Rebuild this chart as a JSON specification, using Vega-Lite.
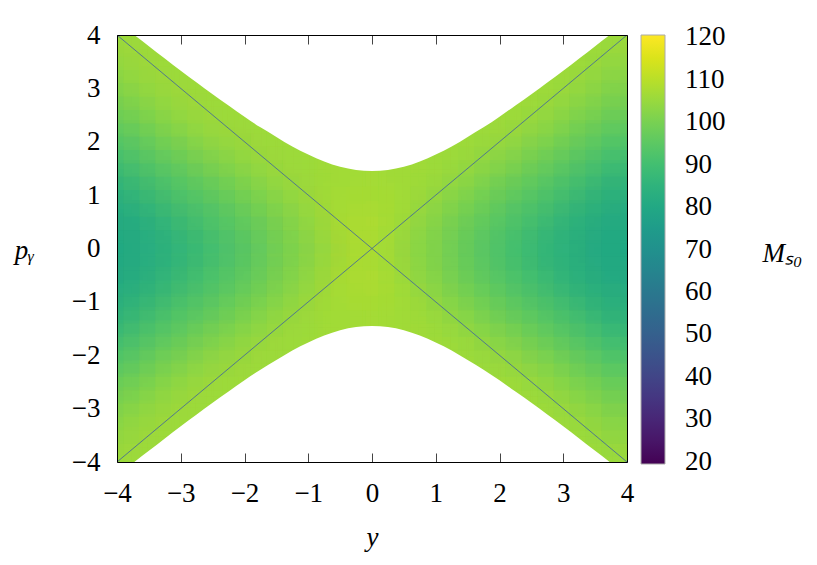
{
"$schema": "https://vega.github.io/schema/vega-lite/v6.json",
"width": 510, "height": 427,
"autosize": {"type": "none"},
"padding": {"left": 117, "top": 35, "right": 190, "bottom": 103},
"background": "white",
"config": {"view": {"stroke": null}, "font": "Liberation Serif"},
"datasets": {
"cells": [
{"y":-4,"p":-4,"m":106},{"y":-4,"p":-3.75,"m":105},{"y":-4,"p":-3.5,"m":104},{"y":-4,"p":-3.25,"m":102},{"y":-4,"p":-3,"m":101},{"y":-4,"p":-2.75,"m":99},{"y":-4,"p":-2.5,"m":97},{"y":-4,"p":-2.25,"m":95},{"y":-4,"p":-2,"m":92},{"y":-4,"p":-1.75,"m":90},{"y":-4,"p":-1.5,"m":87},{"y":-4,"p":-1.25,"m":85},{"y":-4,"p":-1,"m":83},{"y":-4,"p":-0.75,"m":82},{"y":-4,"p":-0.5,"m":81},{"y":-4,"p":-0.25,"m":80},{"y":-4,"p":0,"m":80},{"y":-4,"p":0.25,"m":80},{"y":-4,"p":0.5,"m":81},{"y":-4,"p":0.75,"m":82},{"y":-4,"p":1,"m":83},{"y":-4,"p":1.25,"m":85},{"y":-4,"p":1.5,"m":87},{"y":-4,"p":1.75,"m":90},{"y":-4,"p":2,"m":92},{"y":-4,"p":2.25,"m":95},{"y":-4,"p":2.5,"m":97},{"y":-4,"p":2.75,"m":99},{"y":-4,"p":3,"m":101},{"y":-4,"p":3.25,"m":102},{"y":-4,"p":3.5,"m":104},{"y":-4,"p":3.75,"m":105},{"y":-4,"p":4,"m":106},
{"y":-3.75,"p":-4,"m":106},{"y":-3.75,"p":-3.75,"m":106},{"y":-3.75,"p":-3.5,"m":105},{"y":-3.75,"p":-3.25,"m":104},{"y":-3.75,"p":-3,"m":102},{"y":-3.75,"p":-2.75,"m":101},{"y":-3.75,"p":-2.5,"m":99},{"y":-3.75,"p":-2.25,"m":97},{"y":-3.75,"p":-2,"m":94},{"y":-3.75,"p":-1.75,"m":92},{"y":-3.75,"p":-1.5,"m":89},{"y":-3.75,"p":-1.25,"m":87},{"y":-3.75,"p":-1,"m":85},{"y":-3.75,"p":-0.75,"m":83},{"y":-3.75,"p":-0.5,"m":82},{"y":-3.75,"p":-0.25,"m":81},{"y":-3.75,"p":0,"m":81},{"y":-3.75,"p":0.25,"m":81},{"y":-3.75,"p":0.5,"m":82},{"y":-3.75,"p":0.75,"m":83},{"y":-3.75,"p":1,"m":85},{"y":-3.75,"p":1.25,"m":87},{"y":-3.75,"p":1.5,"m":89},{"y":-3.75,"p":1.75,"m":92},{"y":-3.75,"p":2,"m":94},{"y":-3.75,"p":2.25,"m":97},{"y":-3.75,"p":2.5,"m":99},{"y":-3.75,"p":2.75,"m":101},{"y":-3.75,"p":3,"m":102},{"y":-3.75,"p":3.25,"m":104},{"y":-3.75,"p":3.5,"m":105},{"y":-3.75,"p":3.75,"m":106},{"y":-3.75,"p":4,"m":106},
{"y":-3.5,"p":-4,"m":106},{"y":-3.5,"p":-3.75,"m":106},{"y":-3.5,"p":-3.5,"m":106},{"y":-3.5,"p":-3.25,"m":105},{"y":-3.5,"p":-3,"m":104},{"y":-3.5,"p":-2.75,"m":102},{"y":-3.5,"p":-2.5,"m":100},{"y":-3.5,"p":-2.25,"m":98},{"y":-3.5,"p":-2,"m":96},{"y":-3.5,"p":-1.75,"m":94},{"y":-3.5,"p":-1.5,"m":91},{"y":-3.5,"p":-1.25,"m":89},{"y":-3.5,"p":-1,"m":87},{"y":-3.5,"p":-0.75,"m":85},{"y":-3.5,"p":-0.5,"m":83},{"y":-3.5,"p":-0.25,"m":83},{"y":-3.5,"p":0,"m":82},{"y":-3.5,"p":0.25,"m":83},{"y":-3.5,"p":0.5,"m":83},{"y":-3.5,"p":0.75,"m":85},{"y":-3.5,"p":1,"m":87},{"y":-3.5,"p":1.25,"m":89},{"y":-3.5,"p":1.5,"m":91},{"y":-3.5,"p":1.75,"m":94},{"y":-3.5,"p":2,"m":96},{"y":-3.5,"p":2.25,"m":98},{"y":-3.5,"p":2.5,"m":100},{"y":-3.5,"p":2.75,"m":102},{"y":-3.5,"p":3,"m":104},{"y":-3.5,"p":3.25,"m":105},{"y":-3.5,"p":3.5,"m":106},{"y":-3.5,"p":3.75,"m":106},{"y":-3.5,"p":4,"m":106},
{"y":-3.25,"p":-3.75,"m":106},{"y":-3.25,"p":-3.5,"m":106},{"y":-3.25,"p":-3.25,"m":106},{"y":-3.25,"p":-3,"m":105},{"y":-3.25,"p":-2.75,"m":104},{"y":-3.25,"p":-2.5,"m":102},{"y":-3.25,"p":-2.25,"m":100},{"y":-3.25,"p":-2,"m":98},{"y":-3.25,"p":-1.75,"m":96},{"y":-3.25,"p":-1.5,"m":93},{"y":-3.25,"p":-1.25,"m":91},{"y":-3.25,"p":-1,"m":89},{"y":-3.25,"p":-0.75,"m":87},{"y":-3.25,"p":-0.5,"m":85},{"y":-3.25,"p":-0.25,"m":84},{"y":-3.25,"p":0,"m":84},{"y":-3.25,"p":0.25,"m":84},{"y":-3.25,"p":0.5,"m":85},{"y":-3.25,"p":0.75,"m":87},{"y":-3.25,"p":1,"m":89},{"y":-3.25,"p":1.25,"m":91},{"y":-3.25,"p":1.5,"m":93},{"y":-3.25,"p":1.75,"m":96},{"y":-3.25,"p":2,"m":98},{"y":-3.25,"p":2.25,"m":100},{"y":-3.25,"p":2.5,"m":102},{"y":-3.25,"p":2.75,"m":104},{"y":-3.25,"p":3,"m":105},{"y":-3.25,"p":3.25,"m":106},{"y":-3.25,"p":3.5,"m":106},{"y":-3.25,"p":3.75,"m":106},
{"y":-3,"p":-3.5,"m":106},{"y":-3,"p":-3.25,"m":106},{"y":-3,"p":-3,"m":106},{"y":-3,"p":-2.75,"m":105},{"y":-3,"p":-2.5,"m":104},{"y":-3,"p":-2.25,"m":102},{"y":-3,"p":-2,"m":100},{"y":-3,"p":-1.75,"m":98},{"y":-3,"p":-1.5,"m":95},{"y":-3,"p":-1.25,"m":93},{"y":-3,"p":-1,"m":91},{"y":-3,"p":-0.75,"m":89},{"y":-3,"p":-0.5,"m":87},{"y":-3,"p":-0.25,"m":86},{"y":-3,"p":0,"m":85},{"y":-3,"p":0.25,"m":86},{"y":-3,"p":0.5,"m":87},{"y":-3,"p":0.75,"m":89},{"y":-3,"p":1,"m":91},{"y":-3,"p":1.25,"m":93},{"y":-3,"p":1.5,"m":95},{"y":-3,"p":1.75,"m":98},{"y":-3,"p":2,"m":100},{"y":-3,"p":2.25,"m":102},{"y":-3,"p":2.5,"m":104},{"y":-3,"p":2.75,"m":105},{"y":-3,"p":3,"m":106},{"y":-3,"p":3.25,"m":106},{"y":-3,"p":3.5,"m":106},
{"y":-2.75,"p":-3.25,"m":106},{"y":-2.75,"p":-3,"m":106},{"y":-2.75,"p":-2.75,"m":106},{"y":-2.75,"p":-2.5,"m":105},{"y":-2.75,"p":-2.25,"m":103},{"y":-2.75,"p":-2,"m":101},{"y":-2.75,"p":-1.75,"m":99},{"y":-2.75,"p":-1.5,"m":97},{"y":-2.75,"p":-1.25,"m":95},{"y":-2.75,"p":-1,"m":93},{"y":-2.75,"p":-0.75,"m":91},{"y":-2.75,"p":-0.5,"m":89},{"y":-2.75,"p":-0.25,"m":88},{"y":-2.75,"p":0,"m":87},{"y":-2.75,"p":0.25,"m":88},{"y":-2.75,"p":0.5,"m":89},{"y":-2.75,"p":0.75,"m":91},{"y":-2.75,"p":1,"m":93},{"y":-2.75,"p":1.25,"m":95},{"y":-2.75,"p":1.5,"m":97},{"y":-2.75,"p":1.75,"m":99},{"y":-2.75,"p":2,"m":101},{"y":-2.75,"p":2.25,"m":103},{"y":-2.75,"p":2.5,"m":105},{"y":-2.75,"p":2.75,"m":106},{"y":-2.75,"p":3,"m":106},{"y":-2.75,"p":3.25,"m":106},
{"y":-2.5,"p":-3,"m":106},{"y":-2.5,"p":-2.75,"m":106},{"y":-2.5,"p":-2.5,"m":106},{"y":-2.5,"p":-2.25,"m":105},{"y":-2.5,"p":-2,"m":103},{"y":-2.5,"p":-1.75,"m":101},{"y":-2.5,"p":-1.5,"m":99},{"y":-2.5,"p":-1.25,"m":97},{"y":-2.5,"p":-1,"m":94},{"y":-2.5,"p":-0.75,"m":93},{"y":-2.5,"p":-0.5,"m":91},{"y":-2.5,"p":-0.25,"m":90},{"y":-2.5,"p":0,"m":89},{"y":-2.5,"p":0.25,"m":90},{"y":-2.5,"p":0.5,"m":91},{"y":-2.5,"p":0.75,"m":93},{"y":-2.5,"p":1,"m":94},{"y":-2.5,"p":1.25,"m":97},{"y":-2.5,"p":1.5,"m":99},{"y":-2.5,"p":1.75,"m":101},{"y":-2.5,"p":2,"m":103},{"y":-2.5,"p":2.25,"m":105},{"y":-2.5,"p":2.5,"m":106},{"y":-2.5,"p":2.75,"m":106},{"y":-2.5,"p":3,"m":106},
{"y":-2.25,"p":-2.75,"m":106},{"y":-2.25,"p":-2.5,"m":106},{"y":-2.25,"p":-2.25,"m":106},{"y":-2.25,"p":-2,"m":104},{"y":-2.25,"p":-1.75,"m":103},{"y":-2.25,"p":-1.5,"m":100},{"y":-2.25,"p":-1.25,"m":99},{"y":-2.25,"p":-1,"m":96},{"y":-2.25,"p":-0.75,"m":95},{"y":-2.25,"p":-0.5,"m":93},{"y":-2.25,"p":-0.25,"m":92},{"y":-2.25,"p":0,"m":91},{"y":-2.25,"p":0.25,"m":92},{"y":-2.25,"p":0.5,"m":93},{"y":-2.25,"p":0.75,"m":95},{"y":-2.25,"p":1,"m":96},{"y":-2.25,"p":1.25,"m":99},{"y":-2.25,"p":1.5,"m":100},{"y":-2.25,"p":1.75,"m":103},{"y":-2.25,"p":2,"m":104},{"y":-2.25,"p":2.25,"m":106},{"y":-2.25,"p":2.5,"m":106},{"y":-2.25,"p":2.75,"m":106},
{"y":-2,"p":-2.5,"m":106},{"y":-2,"p":-2.25,"m":106},{"y":-2,"p":-2,"m":105},{"y":-2,"p":-1.75,"m":104},{"y":-2,"p":-1.5,"m":102},{"y":-2,"p":-1.25,"m":100},{"y":-2,"p":-1,"m":98},{"y":-2,"p":-0.75,"m":97},{"y":-2,"p":-0.5,"m":95},{"y":-2,"p":-0.25,"m":94},{"y":-2,"p":0,"m":94},{"y":-2,"p":0.25,"m":94},{"y":-2,"p":0.5,"m":95},{"y":-2,"p":0.75,"m":97},{"y":-2,"p":1,"m":98},{"y":-2,"p":1.25,"m":100},{"y":-2,"p":1.5,"m":102},{"y":-2,"p":1.75,"m":104},{"y":-2,"p":2,"m":105},{"y":-2,"p":2.25,"m":106},{"y":-2,"p":2.5,"m":106},
{"y":-1.75,"p":-2.5,"m":106},{"y":-1.75,"p":-2.25,"m":106},{"y":-1.75,"p":-2,"m":106},{"y":-1.75,"p":-1.75,"m":105},{"y":-1.75,"p":-1.5,"m":104},{"y":-1.75,"p":-1.25,"m":102},{"y":-1.75,"p":-1,"m":100},{"y":-1.75,"p":-0.75,"m":99},{"y":-1.75,"p":-0.5,"m":97},{"y":-1.75,"p":-0.25,"m":96},{"y":-1.75,"p":0,"m":96},{"y":-1.75,"p":0.25,"m":96},{"y":-1.75,"p":0.5,"m":97},{"y":-1.75,"p":0.75,"m":99},{"y":-1.75,"p":1,"m":100},{"y":-1.75,"p":1.25,"m":102},{"y":-1.75,"p":1.5,"m":104},{"y":-1.75,"p":1.75,"m":105},{"y":-1.75,"p":2,"m":106},{"y":-1.75,"p":2.25,"m":106},{"y":-1.75,"p":2.5,"m":106},
{"y":-1.5,"p":-2.25,"m":106},{"y":-1.5,"p":-2,"m":106},{"y":-1.5,"p":-1.75,"m":106},{"y":-1.5,"p":-1.5,"m":105},{"y":-1.5,"p":-1.25,"m":103},{"y":-1.5,"p":-1,"m":102},{"y":-1.5,"p":-0.75,"m":100},{"y":-1.5,"p":-0.5,"m":99},{"y":-1.5,"p":-0.25,"m":98},{"y":-1.5,"p":0,"m":98},{"y":-1.5,"p":0.25,"m":98},{"y":-1.5,"p":0.5,"m":99},{"y":-1.5,"p":0.75,"m":100},{"y":-1.5,"p":1,"m":102},{"y":-1.5,"p":1.25,"m":103},{"y":-1.5,"p":1.5,"m":105},{"y":-1.5,"p":1.75,"m":106},{"y":-1.5,"p":2,"m":106},{"y":-1.5,"p":2.25,"m":106},
{"y":-1.25,"p":-2,"m":106},{"y":-1.25,"p":-1.75,"m":106},{"y":-1.25,"p":-1.5,"m":106},{"y":-1.25,"p":-1.25,"m":105},{"y":-1.25,"p":-1,"m":104},{"y":-1.25,"p":-0.75,"m":102},{"y":-1.25,"p":-0.5,"m":101},{"y":-1.25,"p":-0.25,"m":101},{"y":-1.25,"p":0,"m":100},{"y":-1.25,"p":0.25,"m":101},{"y":-1.25,"p":0.5,"m":101},{"y":-1.25,"p":0.75,"m":102},{"y":-1.25,"p":1,"m":104},{"y":-1.25,"p":1.25,"m":105},{"y":-1.25,"p":1.5,"m":106},{"y":-1.25,"p":1.75,"m":106},{"y":-1.25,"p":2,"m":106},
{"y":-1,"p":-2,"m":106},{"y":-1,"p":-1.75,"m":106},{"y":-1,"p":-1.5,"m":106},{"y":-1,"p":-1.25,"m":106},{"y":-1,"p":-1,"m":105},{"y":-1,"p":-0.75,"m":104},{"y":-1,"p":-0.5,"m":103},{"y":-1,"p":-0.25,"m":102},{"y":-1,"p":0,"m":102},{"y":-1,"p":0.25,"m":102},{"y":-1,"p":0.5,"m":103},{"y":-1,"p":0.75,"m":104},{"y":-1,"p":1,"m":105},{"y":-1,"p":1.25,"m":106},{"y":-1,"p":1.5,"m":106},{"y":-1,"p":1.75,"m":106},{"y":-1,"p":2,"m":106},
{"y":-0.75,"p":-1.75,"m":106},{"y":-0.75,"p":-1.5,"m":106},{"y":-0.75,"p":-1.25,"m":106},{"y":-0.75,"p":-1,"m":106},{"y":-0.75,"p":-0.75,"m":106},{"y":-0.75,"p":-0.5,"m":105},{"y":-0.75,"p":-0.25,"m":104},{"y":-0.75,"p":0,"m":104},{"y":-0.75,"p":0.25,"m":104},{"y":-0.75,"p":0.5,"m":105},{"y":-0.75,"p":0.75,"m":106},{"y":-0.75,"p":1,"m":106},{"y":-0.75,"p":1.25,"m":106},{"y":-0.75,"p":1.5,"m":106},{"y":-0.75,"p":1.75,"m":106},
{"y":-0.5,"p":-1.75,"m":106},{"y":-0.5,"p":-1.5,"m":106},{"y":-0.5,"p":-1.25,"m":107},{"y":-0.5,"p":-1,"m":107},{"y":-0.5,"p":-0.75,"m":107},{"y":-0.5,"p":-0.5,"m":107},{"y":-0.5,"p":-0.25,"m":106},{"y":-0.5,"p":0,"m":106},{"y":-0.5,"p":0.25,"m":106},{"y":-0.5,"p":0.5,"m":107},{"y":-0.5,"p":0.75,"m":107},{"y":-0.5,"p":1,"m":107},{"y":-0.5,"p":1.25,"m":107},{"y":-0.5,"p":1.5,"m":106},{"y":-0.5,"p":1.75,"m":106},
{"y":-0.25,"p":-1.5,"m":107},{"y":-0.25,"p":-1.25,"m":107},{"y":-0.25,"p":-1,"m":107},{"y":-0.25,"p":-0.75,"m":108},{"y":-0.25,"p":-0.5,"m":108},{"y":-0.25,"p":-0.25,"m":108},{"y":-0.25,"p":0,"m":107},{"y":-0.25,"p":0.25,"m":108},{"y":-0.25,"p":0.5,"m":108},{"y":-0.25,"p":0.75,"m":108},{"y":-0.25,"p":1,"m":107},{"y":-0.25,"p":1.25,"m":107},{"y":-0.25,"p":1.5,"m":107},
{"y":0,"p":-1.5,"m":107},{"y":0,"p":-1.25,"m":107},{"y":0,"p":-1,"m":107},{"y":0,"p":-0.75,"m":108},{"y":0,"p":-0.5,"m":108},{"y":0,"p":-0.25,"m":108},{"y":0,"p":0,"m":108},{"y":0,"p":0.25,"m":108},{"y":0,"p":0.5,"m":108},{"y":0,"p":0.75,"m":108},{"y":0,"p":1,"m":107},{"y":0,"p":1.25,"m":107},{"y":0,"p":1.5,"m":107},
{"y":0.25,"p":-1.5,"m":107},{"y":0.25,"p":-1.25,"m":107},{"y":0.25,"p":-1,"m":107},{"y":0.25,"p":-0.75,"m":108},{"y":0.25,"p":-0.5,"m":108},{"y":0.25,"p":-0.25,"m":108},{"y":0.25,"p":0,"m":107},{"y":0.25,"p":0.25,"m":108},{"y":0.25,"p":0.5,"m":108},{"y":0.25,"p":0.75,"m":108},{"y":0.25,"p":1,"m":107},{"y":0.25,"p":1.25,"m":107},{"y":0.25,"p":1.5,"m":107},
{"y":0.5,"p":-1.75,"m":106},{"y":0.5,"p":-1.5,"m":106},{"y":0.5,"p":-1.25,"m":107},{"y":0.5,"p":-1,"m":107},{"y":0.5,"p":-0.75,"m":107},{"y":0.5,"p":-0.5,"m":107},{"y":0.5,"p":-0.25,"m":106},{"y":0.5,"p":0,"m":106},{"y":0.5,"p":0.25,"m":106},{"y":0.5,"p":0.5,"m":107},{"y":0.5,"p":0.75,"m":107},{"y":0.5,"p":1,"m":107},{"y":0.5,"p":1.25,"m":107},{"y":0.5,"p":1.5,"m":106},{"y":0.5,"p":1.75,"m":106},
{"y":0.75,"p":-1.75,"m":106},{"y":0.75,"p":-1.5,"m":106},{"y":0.75,"p":-1.25,"m":106},{"y":0.75,"p":-1,"m":106},{"y":0.75,"p":-0.75,"m":106},{"y":0.75,"p":-0.5,"m":105},{"y":0.75,"p":-0.25,"m":104},{"y":0.75,"p":0,"m":104},{"y":0.75,"p":0.25,"m":104},{"y":0.75,"p":0.5,"m":105},{"y":0.75,"p":0.75,"m":106},{"y":0.75,"p":1,"m":106},{"y":0.75,"p":1.25,"m":106},{"y":0.75,"p":1.5,"m":106},{"y":0.75,"p":1.75,"m":106},
{"y":1,"p":-2,"m":106},{"y":1,"p":-1.75,"m":106},{"y":1,"p":-1.5,"m":106},{"y":1,"p":-1.25,"m":106},{"y":1,"p":-1,"m":105},{"y":1,"p":-0.75,"m":104},{"y":1,"p":-0.5,"m":103},{"y":1,"p":-0.25,"m":102},{"y":1,"p":0,"m":102},{"y":1,"p":0.25,"m":102},{"y":1,"p":0.5,"m":103},{"y":1,"p":0.75,"m":104},{"y":1,"p":1,"m":105},{"y":1,"p":1.25,"m":106},{"y":1,"p":1.5,"m":106},{"y":1,"p":1.75,"m":106},{"y":1,"p":2,"m":106},
{"y":1.25,"p":-2,"m":106},{"y":1.25,"p":-1.75,"m":106},{"y":1.25,"p":-1.5,"m":106},{"y":1.25,"p":-1.25,"m":105},{"y":1.25,"p":-1,"m":104},{"y":1.25,"p":-0.75,"m":102},{"y":1.25,"p":-0.5,"m":101},{"y":1.25,"p":-0.25,"m":101},{"y":1.25,"p":0,"m":100},{"y":1.25,"p":0.25,"m":101},{"y":1.25,"p":0.5,"m":101},{"y":1.25,"p":0.75,"m":102},{"y":1.25,"p":1,"m":104},{"y":1.25,"p":1.25,"m":105},{"y":1.25,"p":1.5,"m":106},{"y":1.25,"p":1.75,"m":106},{"y":1.25,"p":2,"m":106},
{"y":1.5,"p":-2.25,"m":106},{"y":1.5,"p":-2,"m":106},{"y":1.5,"p":-1.75,"m":106},{"y":1.5,"p":-1.5,"m":105},{"y":1.5,"p":-1.25,"m":103},{"y":1.5,"p":-1,"m":102},{"y":1.5,"p":-0.75,"m":100},{"y":1.5,"p":-0.5,"m":99},{"y":1.5,"p":-0.25,"m":98},{"y":1.5,"p":0,"m":98},{"y":1.5,"p":0.25,"m":98},{"y":1.5,"p":0.5,"m":99},{"y":1.5,"p":0.75,"m":100},{"y":1.5,"p":1,"m":102},{"y":1.5,"p":1.25,"m":103},{"y":1.5,"p":1.5,"m":105},{"y":1.5,"p":1.75,"m":106},{"y":1.5,"p":2,"m":106},{"y":1.5,"p":2.25,"m":106},
{"y":1.75,"p":-2.5,"m":106},{"y":1.75,"p":-2.25,"m":106},{"y":1.75,"p":-2,"m":106},{"y":1.75,"p":-1.75,"m":105},{"y":1.75,"p":-1.5,"m":104},{"y":1.75,"p":-1.25,"m":102},{"y":1.75,"p":-1,"m":100},{"y":1.75,"p":-0.75,"m":99},{"y":1.75,"p":-0.5,"m":97},{"y":1.75,"p":-0.25,"m":96},{"y":1.75,"p":0,"m":96},{"y":1.75,"p":0.25,"m":96},{"y":1.75,"p":0.5,"m":97},{"y":1.75,"p":0.75,"m":99},{"y":1.75,"p":1,"m":100},{"y":1.75,"p":1.25,"m":102},{"y":1.75,"p":1.5,"m":104},{"y":1.75,"p":1.75,"m":105},{"y":1.75,"p":2,"m":106},{"y":1.75,"p":2.25,"m":106},{"y":1.75,"p":2.5,"m":106},
{"y":2,"p":-2.5,"m":106},{"y":2,"p":-2.25,"m":106},{"y":2,"p":-2,"m":105},{"y":2,"p":-1.75,"m":104},{"y":2,"p":-1.5,"m":102},{"y":2,"p":-1.25,"m":100},{"y":2,"p":-1,"m":98},{"y":2,"p":-0.75,"m":97},{"y":2,"p":-0.5,"m":95},{"y":2,"p":-0.25,"m":94},{"y":2,"p":0,"m":94},{"y":2,"p":0.25,"m":94},{"y":2,"p":0.5,"m":95},{"y":2,"p":0.75,"m":97},{"y":2,"p":1,"m":98},{"y":2,"p":1.25,"m":100},{"y":2,"p":1.5,"m":102},{"y":2,"p":1.75,"m":104},{"y":2,"p":2,"m":105},{"y":2,"p":2.25,"m":106},{"y":2,"p":2.5,"m":106},
{"y":2.25,"p":-2.75,"m":106},{"y":2.25,"p":-2.5,"m":106},{"y":2.25,"p":-2.25,"m":106},{"y":2.25,"p":-2,"m":104},{"y":2.25,"p":-1.75,"m":103},{"y":2.25,"p":-1.5,"m":100},{"y":2.25,"p":-1.25,"m":99},{"y":2.25,"p":-1,"m":96},{"y":2.25,"p":-0.75,"m":95},{"y":2.25,"p":-0.5,"m":93},{"y":2.25,"p":-0.25,"m":92},{"y":2.25,"p":0,"m":91},{"y":2.25,"p":0.25,"m":92},{"y":2.25,"p":0.5,"m":93},{"y":2.25,"p":0.75,"m":95},{"y":2.25,"p":1,"m":96},{"y":2.25,"p":1.25,"m":99},{"y":2.25,"p":1.5,"m":100},{"y":2.25,"p":1.75,"m":103},{"y":2.25,"p":2,"m":104},{"y":2.25,"p":2.25,"m":106},{"y":2.25,"p":2.5,"m":106},{"y":2.25,"p":2.75,"m":106},
{"y":2.5,"p":-3,"m":106},{"y":2.5,"p":-2.75,"m":106},{"y":2.5,"p":-2.5,"m":106},{"y":2.5,"p":-2.25,"m":105},{"y":2.5,"p":-2,"m":103},{"y":2.5,"p":-1.75,"m":101},{"y":2.5,"p":-1.5,"m":99},{"y":2.5,"p":-1.25,"m":97},{"y":2.5,"p":-1,"m":94},{"y":2.5,"p":-0.75,"m":93},{"y":2.5,"p":-0.5,"m":91},{"y":2.5,"p":-0.25,"m":90},{"y":2.5,"p":0,"m":89},{"y":2.5,"p":0.25,"m":90},{"y":2.5,"p":0.5,"m":91},{"y":2.5,"p":0.75,"m":93},{"y":2.5,"p":1,"m":94},{"y":2.5,"p":1.25,"m":97},{"y":2.5,"p":1.5,"m":99},{"y":2.5,"p":1.75,"m":101},{"y":2.5,"p":2,"m":103},{"y":2.5,"p":2.25,"m":105},{"y":2.5,"p":2.5,"m":106},{"y":2.5,"p":2.75,"m":106},{"y":2.5,"p":3,"m":106},
{"y":2.75,"p":-3.25,"m":106},{"y":2.75,"p":-3,"m":106},{"y":2.75,"p":-2.75,"m":106},{"y":2.75,"p":-2.5,"m":105},{"y":2.75,"p":-2.25,"m":103},{"y":2.75,"p":-2,"m":101},{"y":2.75,"p":-1.75,"m":99},{"y":2.75,"p":-1.5,"m":97},{"y":2.75,"p":-1.25,"m":95},{"y":2.75,"p":-1,"m":93},{"y":2.75,"p":-0.75,"m":91},{"y":2.75,"p":-0.5,"m":89},{"y":2.75,"p":-0.25,"m":88},{"y":2.75,"p":0,"m":87},{"y":2.75,"p":0.25,"m":88},{"y":2.75,"p":0.5,"m":89},{"y":2.75,"p":0.75,"m":91},{"y":2.75,"p":1,"m":93},{"y":2.75,"p":1.25,"m":95},{"y":2.75,"p":1.5,"m":97},{"y":2.75,"p":1.75,"m":99},{"y":2.75,"p":2,"m":101},{"y":2.75,"p":2.25,"m":103},{"y":2.75,"p":2.5,"m":105},{"y":2.75,"p":2.75,"m":106},{"y":2.75,"p":3,"m":106},{"y":2.75,"p":3.25,"m":106},
{"y":3,"p":-3.5,"m":106},{"y":3,"p":-3.25,"m":106},{"y":3,"p":-3,"m":106},{"y":3,"p":-2.75,"m":105},{"y":3,"p":-2.5,"m":104},{"y":3,"p":-2.25,"m":102},{"y":3,"p":-2,"m":100},{"y":3,"p":-1.75,"m":98},{"y":3,"p":-1.5,"m":95},{"y":3,"p":-1.25,"m":93},{"y":3,"p":-1,"m":91},{"y":3,"p":-0.75,"m":89},{"y":3,"p":-0.5,"m":87},{"y":3,"p":-0.25,"m":86},{"y":3,"p":0,"m":85},{"y":3,"p":0.25,"m":86},{"y":3,"p":0.5,"m":87},{"y":3,"p":0.75,"m":89},{"y":3,"p":1,"m":91},{"y":3,"p":1.25,"m":93},{"y":3,"p":1.5,"m":95},{"y":3,"p":1.75,"m":98},{"y":3,"p":2,"m":100},{"y":3,"p":2.25,"m":102},{"y":3,"p":2.5,"m":104},{"y":3,"p":2.75,"m":105},{"y":3,"p":3,"m":106},{"y":3,"p":3.25,"m":106},{"y":3,"p":3.5,"m":106},
{"y":3.25,"p":-3.75,"m":106},{"y":3.25,"p":-3.5,"m":106},{"y":3.25,"p":-3.25,"m":106},{"y":3.25,"p":-3,"m":105},{"y":3.25,"p":-2.75,"m":104},{"y":3.25,"p":-2.5,"m":102},{"y":3.25,"p":-2.25,"m":100},{"y":3.25,"p":-2,"m":98},{"y":3.25,"p":-1.75,"m":96},{"y":3.25,"p":-1.5,"m":93},{"y":3.25,"p":-1.25,"m":91},{"y":3.25,"p":-1,"m":89},{"y":3.25,"p":-0.75,"m":87},{"y":3.25,"p":-0.5,"m":85},{"y":3.25,"p":-0.25,"m":84},{"y":3.25,"p":0,"m":84},{"y":3.25,"p":0.25,"m":84},{"y":3.25,"p":0.5,"m":85},{"y":3.25,"p":0.75,"m":87},{"y":3.25,"p":1,"m":89},{"y":3.25,"p":1.25,"m":91},{"y":3.25,"p":1.5,"m":93},{"y":3.25,"p":1.75,"m":96},{"y":3.25,"p":2,"m":98},{"y":3.25,"p":2.25,"m":100},{"y":3.25,"p":2.5,"m":102},{"y":3.25,"p":2.75,"m":104},{"y":3.25,"p":3,"m":105},{"y":3.25,"p":3.25,"m":106},{"y":3.25,"p":3.5,"m":106},{"y":3.25,"p":3.75,"m":106},
{"y":3.5,"p":-4,"m":106},{"y":3.5,"p":-3.75,"m":106},{"y":3.5,"p":-3.5,"m":106},{"y":3.5,"p":-3.25,"m":105},{"y":3.5,"p":-3,"m":104},{"y":3.5,"p":-2.75,"m":102},{"y":3.5,"p":-2.5,"m":100},{"y":3.5,"p":-2.25,"m":98},{"y":3.5,"p":-2,"m":96},{"y":3.5,"p":-1.75,"m":94},{"y":3.5,"p":-1.5,"m":91},{"y":3.5,"p":-1.25,"m":89},{"y":3.5,"p":-1,"m":87},{"y":3.5,"p":-0.75,"m":85},{"y":3.5,"p":-0.5,"m":83},{"y":3.5,"p":-0.25,"m":83},{"y":3.5,"p":0,"m":82},{"y":3.5,"p":0.25,"m":83},{"y":3.5,"p":0.5,"m":83},{"y":3.5,"p":0.75,"m":85},{"y":3.5,"p":1,"m":87},{"y":3.5,"p":1.25,"m":89},{"y":3.5,"p":1.5,"m":91},{"y":3.5,"p":1.75,"m":94},{"y":3.5,"p":2,"m":96},{"y":3.5,"p":2.25,"m":98},{"y":3.5,"p":2.5,"m":100},{"y":3.5,"p":2.75,"m":102},{"y":3.5,"p":3,"m":104},{"y":3.5,"p":3.25,"m":105},{"y":3.5,"p":3.5,"m":106},{"y":3.5,"p":3.75,"m":106},{"y":3.5,"p":4,"m":106},
{"y":3.75,"p":-4,"m":106},{"y":3.75,"p":-3.75,"m":106},{"y":3.75,"p":-3.5,"m":105},{"y":3.75,"p":-3.25,"m":104},{"y":3.75,"p":-3,"m":102},{"y":3.75,"p":-2.75,"m":101},{"y":3.75,"p":-2.5,"m":99},{"y":3.75,"p":-2.25,"m":97},{"y":3.75,"p":-2,"m":94},{"y":3.75,"p":-1.75,"m":92},{"y":3.75,"p":-1.5,"m":89},{"y":3.75,"p":-1.25,"m":87},{"y":3.75,"p":-1,"m":85},{"y":3.75,"p":-0.75,"m":83},{"y":3.75,"p":-0.5,"m":82},{"y":3.75,"p":-0.25,"m":81},{"y":3.75,"p":0,"m":81},{"y":3.75,"p":0.25,"m":81},{"y":3.75,"p":0.5,"m":82},{"y":3.75,"p":0.75,"m":83},{"y":3.75,"p":1,"m":85},{"y":3.75,"p":1.25,"m":87},{"y":3.75,"p":1.5,"m":89},{"y":3.75,"p":1.75,"m":92},{"y":3.75,"p":2,"m":94},{"y":3.75,"p":2.25,"m":97},{"y":3.75,"p":2.5,"m":99},{"y":3.75,"p":2.75,"m":101},{"y":3.75,"p":3,"m":102},{"y":3.75,"p":3.25,"m":104},{"y":3.75,"p":3.5,"m":105},{"y":3.75,"p":3.75,"m":106},{"y":3.75,"p":4,"m":106},
{"y":4,"p":-4,"m":106},{"y":4,"p":-3.75,"m":105},{"y":4,"p":-3.5,"m":104},{"y":4,"p":-3.25,"m":102},{"y":4,"p":-3,"m":101},{"y":4,"p":-2.75,"m":99},{"y":4,"p":-2.5,"m":97},{"y":4,"p":-2.25,"m":95},{"y":4,"p":-2,"m":92},{"y":4,"p":-1.75,"m":90},{"y":4,"p":-1.5,"m":87},{"y":4,"p":-1.25,"m":85},{"y":4,"p":-1,"m":83},{"y":4,"p":-0.75,"m":82},{"y":4,"p":-0.5,"m":81},{"y":4,"p":-0.25,"m":80},{"y":4,"p":0,"m":80},{"y":4,"p":0.25,"m":80},{"y":4,"p":0.5,"m":81},{"y":4,"p":0.75,"m":82},{"y":4,"p":1,"m":83},{"y":4,"p":1.25,"m":85},{"y":4,"p":1.5,"m":87},{"y":4,"p":1.75,"m":90},{"y":4,"p":2,"m":92},{"y":4,"p":2.25,"m":95},{"y":4,"p":2.5,"m":97},{"y":4,"p":2.75,"m":99},{"y":4,"p":3,"m":101},{"y":4,"p":3.25,"m":102},{"y":4,"p":3.5,"m":104},{"y":4,"p":3.75,"m":105},{"y":4,"p":4,"m":106}
],
"edge": [
{"y":-4,"t":4.25,"b":-4.25},{"y":-3.75,"t":4.02,"b":-4.02},{"y":-3.5,"t":3.79,"b":-3.79},{"y":-3.25,"t":3.56,"b":-3.56},{"y":-3,"t":3.33,"b":-3.33},{"y":-2.75,"t":3.11,"b":-3.11},{"y":-2.5,"t":2.89,"b":-2.89},{"y":-2.25,"t":2.68,"b":-2.68},{"y":-2,"t":2.47,"b":-2.47},{"y":-1.75,"t":2.27,"b":-2.27},{"y":-1.5,"t":2.09,"b":-2.09},{"y":-1.25,"t":1.91,"b":-1.91},{"y":-1,"t":1.76,"b":-1.76},{"y":-0.75,"t":1.63,"b":-1.63},{"y":-0.5,"t":1.53,"b":-1.53},{"y":-0.25,"t":1.47,"b":-1.47},{"y":0,"t":1.45,"b":-1.45},{"y":0.25,"t":1.47,"b":-1.47},{"y":0.5,"t":1.53,"b":-1.53},{"y":0.75,"t":1.63,"b":-1.63},{"y":1,"t":1.76,"b":-1.76},{"y":1.25,"t":1.91,"b":-1.91},{"y":1.5,"t":2.09,"b":-2.09},{"y":1.75,"t":2.27,"b":-2.27},{"y":2,"t":2.47,"b":-2.47},{"y":2.25,"t":2.68,"b":-2.68},{"y":2.5,"t":2.89,"b":-2.89},{"y":2.75,"t":3.11,"b":-3.11},{"y":3,"t":3.33,"b":-3.33},{"y":3.25,"t":3.56,"b":-3.56},{"y":3.5,"t":3.79,"b":-3.79},{"y":3.75,"t":4.02,"b":-4.02},{"y":4,"t":4.25,"b":-4.25}
],
"diag": [
{"k":"a","y":-4,"p":-4},{"k":"a","y":4,"p":4},{"k":"b","y":-4,"p":4},{"k":"b","y":4,"p":-4}
]
},
"layer": [
{
"data": {"name": "cells"},
"mark": {"type": "point", "shape": "M-1,-0.85H1V0.85H-1Z", "filled": true, "size": 289, "opacity": 1, "strokeWidth": 0, "clip": true},
"encoding": {
"x": {"field": "y", "type": "quantitative", "scale": {"domain": [-4, 4], "nice": false, "zero": false},
"axis": {"orient": "bottom", "values": [-4,-3,-2,-1,0,1,2,3,4], "grid": false, "zindex": 1, "domainColor": "#000", "domainWidth": 1, "ticks": true, "tickSize": -9, "tickColor": "#444", "tickWidth": 1, "labelFont": "Liberation Serif", "labelFontSize": 27, "labelColor": "#000", "labelPadding": 27, "labelFlush": false, "title": "y", "titleFont": "Liberation Serif", "titleFontSize": 27, "titleFontStyle": "italic", "titleFontWeight": "normal", "titleColor": "#000", "titleX": 255, "titleY": 83, "titleAlign": "center", "titleBaseline": "alphabetic"}},
"y": {"field": "p", "type": "quantitative", "scale": {"domain": [-4, 4], "nice": false, "zero": false},
"axis": {"orient": "left", "values": [-4,-3,-2,-1,0,1,2,3,4], "grid": false, "zindex": 1, "domainColor": "#000", "domainWidth": 1, "ticks": false, "labelFont": "Liberation Serif", "labelFontSize": 27, "labelColor": "#000", "labelPadding": 17, "labelFlush": false, "title": "pᵧ", "titleFont": "Liberation Serif", "titleFontSize": 27, "titleFontStyle": "italic", "titleFontWeight": "normal", "titleColor": "#000", "titleAngle": 0, "titleX": -93, "titleY": 215, "titleAlign": "center", "titleBaseline": "middle"}},
"color": {"field": "m", "type": "quantitative", "scale": {"scheme": "viridis", "domain": [19.5, 120.5]},
"legend": {"orient": "none", "legendX": 524, "legendY": 0, "direction": "vertical", "padding": 0, "gradientLength": 429, "gradientThickness": 24, "gradientStrokeColor": "#aaa", "gradientStrokeWidth": 1, "values": [20,30,40,50,60,70,80,90,100,110,120], "labelOverlap": false, "labelFont": "Liberation Serif", "labelFontSize": 27, "labelColor": "#000", "labelOffset": 20, "title": null}}
}
},
{
"data": {"name": "cells"},
"mark": {"type": "point", "shape": "M-1,-0.85H1V0.85H-1Z", "filled": true, "size": 1156, "opacity": 0.4, "strokeWidth": 0, "clip": true},
"encoding": {
"x": {"field": "y", "type": "quantitative", "scale": {"domain": [-4, 4], "nice": false, "zero": false}, "axis": null},
"y": {"field": "p", "type": "quantitative", "scale": {"domain": [-4, 4], "nice": false, "zero": false}, "axis": null},
"color": {"field": "m", "type": "quantitative", "legend": null}
}
},
{
"data": {"name": "cells"},
"mark": {"type": "point", "shape": "M-1,-0.85H1V0.85H-1Z", "filled": true, "size": 2601, "opacity": 0.22, "strokeWidth": 0, "clip": true},
"encoding": {
"x": {"field": "y", "type": "quantitative", "scale": {"domain": [-4, 4], "nice": false, "zero": false}, "axis": null},
"y": {"field": "p", "type": "quantitative", "scale": {"domain": [-4, 4], "nice": false, "zero": false}, "axis": null},
"color": {"field": "m", "type": "quantitative", "legend": null}
}
},
{
"data": {"name": "edge"},
"mark": {"type": "area", "interpolate": "monotone", "fill": "white", "clip": true},
"encoding": {
"x": {"field": "y", "type": "quantitative", "scale": {"domain": [-4, 4], "nice": false, "zero": false}, "axis": null},
"y": {"field": "t", "type": "quantitative", "scale": {"domain": [-4, 4], "nice": false, "zero": false}, "axis": null},
"y2": {"datum": 4}
}
},
{
"data": {"name": "edge"},
"mark": {"type": "area", "interpolate": "monotone", "fill": "white", "clip": true},
"encoding": {
"x": {"field": "y", "type": "quantitative", "scale": {"domain": [-4, 4], "nice": false, "zero": false}, "axis": null},
"y": {"field": "b", "type": "quantitative", "scale": {"domain": [-4, 4], "nice": false, "zero": false}, "axis": null},
"y2": {"datum": -4}
}
},
{
"data": {"name": "diag"},
"mark": {"type": "line", "stroke": "#3b5ba5", "strokeWidth": 0.9, "opacity": 0.85, "clip": true},
"encoding": {
"x": {"field": "y", "type": "quantitative", "scale": {"domain": [-4, 4], "nice": false, "zero": false},
"axis": {"orient": "top", "values": [-4,-3,-2,-1,0,1,2,3,4], "grid": false, "zindex": 1, "labels": false, "title": null, "domainColor": "#000", "domainWidth": 1, "ticks": true, "tickSize": -9, "tickColor": "#444", "tickWidth": 1}},
"y": {"field": "p", "type": "quantitative", "scale": {"domain": [-4, 4], "nice": false, "zero": false},
"axis": {"orient": "right", "grid": false, "zindex": 1, "labels": false, "domainColor": "#000", "domainWidth": 1, "ticks": false, "title": "Mₛ₀", "titleFont": "Liberation Serif", "titleFontSize": 27, "titleFontStyle": "italic", "titleFontWeight": "normal", "titleColor": "#000", "titleAngle": 0, "titleX": 135, "titleY": 218, "titleAlign": "left", "titleBaseline": "middle"}},
"detail": {"field": "k", "type": "nominal"}
}
}
],
"resolve": {"axis": {"x": "independent", "y": "independent"}}
}
